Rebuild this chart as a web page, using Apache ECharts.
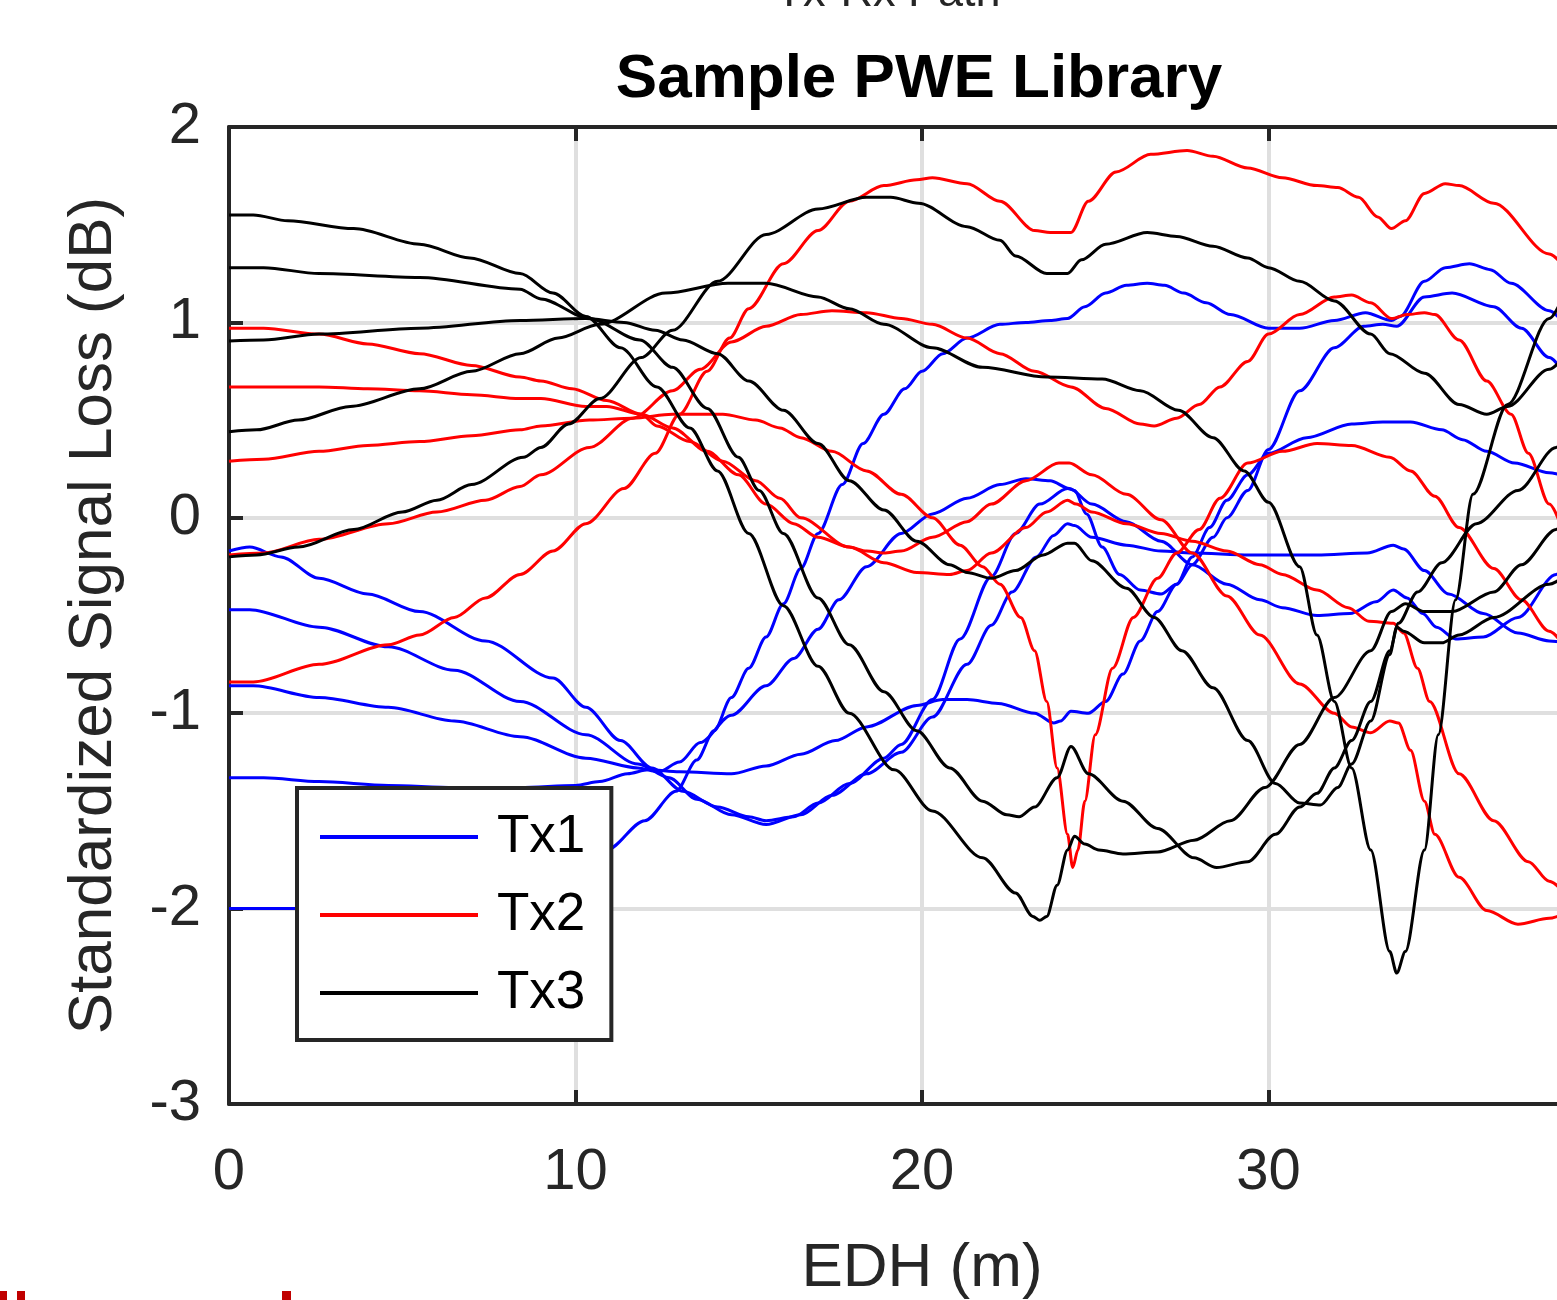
<!DOCTYPE html>
<html><head><meta charset="utf-8">
<script src="https://cdn.jsdelivr.net/npm/echarts@6/dist/echarts.min.js"></script>
<style>html,body{margin:0;padding:0;overflow:hidden;background:#fff}#c{width:1700px;height:1300px}</style>
</head><body><div id="c"></div>
<script>
// ---- axis ticks ----
const xTicks = [0, 10, 20, 30, 40];
const yTicks = [-3, -2, -1, 0, 1, 2];
const seriesNames = ['Tx1', 'Tx2', 'Tx3'];
const seriesColors = ['#0000ff', '#ff0000', '#000000'];

// ---- Tx1 (blue) ----
const tx1Line1 = [[0,-0.17],[0.6,-0.15],[1.5,-0.2],[2.6,-0.31],[4,-0.39],[5.5,-0.48],[7.4,-0.63],[9.35,-0.82],[10.3,-0.97],[11.3,-1.14],[12.2,-1.28],[13.1,-1.40],[14.1,-1.48],[15.0,-1.53],[15.5,-1.55],[16.3,-1.53],[17.0,-1.46],[17.9,-1.36],[18.9,-1.23],[19.4,-1.16],[20.3,-0.93],[21.1,-0.62],[22.0,-0.3],[22.7,-0.08],[23.4,0.07],[24.2,0.15],[24.4,0.14],[24.75,0.02],[25.2,-0.15],[25.7,-0.29],[26.3,-0.37],[26.9,-0.39],[27.35,-0.34],[27.8,-0.24],[28.4,-0.1],[28.8,0.0],[29.4,0.14],[30.0,0.35],[30.9,0.65],[31.9,0.87],[32.75,0.98],[33.3,0.99],[33.7,0.98],[34.5,1.13],[35.3,1.15],[36.5,1.08],[37.3,0.97],[38.1,0.82],[38.6,0.72]];
const tx1Line2 = [[0,-0.47],[0.6,-0.47],[2.6,-0.56],[4.6,-0.66],[6.5,-0.78],[8.4,-0.94],[10.3,-1.11],[11.8,-1.26],[12.7,-1.33],[13.5,-1.44],[14.5,-1.52],[15.5,-1.57],[16.5,-1.52],[17.4,-1.42],[18.4,-1.31],[19.4,-1.20],[20.3,-1.02],[21.3,-0.75],[22.0,-0.55],[22.6,-0.38],[23.3,-0.2],[23.8,-0.09],[24.2,-0.03],[24.4,-0.04],[24.9,-0.10],[25.9,-0.14],[26.9,-0.17],[27.8,-0.18],[29.45,-0.19],[31.4,-0.19],[32.85,-0.18],[33.6,-0.14],[33.9,-0.16],[34.5,-0.27],[35.2,-0.39],[36.2,-0.49],[37.2,-0.59],[38.1,-0.63],[38.6,-0.64]];
const tx1Line3 = [[0,-0.86],[0.7,-0.86],[2.6,-0.92],[4.6,-0.97],[6.5,-1.04],[8.4,-1.12],[10.3,-1.23],[11.8,-1.28],[12.4,-1.30],[13.0,-1.25],[13.6,-1.15],[14.5,-1.01],[15.5,-0.86],[16.3,-0.72],[17.0,-0.57],[17.6,-0.42],[18.4,-0.25],[19.4,-0.08],[20.3,0.02],[21.3,0.10],[22.25,0.17],[23.0,0.20],[23.7,0.19],[24.25,0.15],[24.9,0.07],[25.9,-0.02],[26.9,-0.12],[27.8,-0.24],[28.8,-0.34],[29.75,-0.42],[30.4,-0.46],[31.4,-0.50],[32.35,-0.49],[33.1,-0.43],[33.6,-0.37],[34.0,-0.41],[34.45,-0.49],[34.85,-0.56],[35.4,-0.62],[36.2,-0.61],[37.2,-0.51],[38.3,-0.29],[38.6,-0.24]];
const tx1Line4 = [[0,-1.33],[1,-1.33],[2.6,-1.35],[4.6,-1.37],[6.5,-1.38],[8.4,-1.38],[10.0,-1.37],[10.7,-1.35],[11.5,-1.31],[12.1,-1.29],[13.0,-1.30],[14.5,-1.31],[15.5,-1.27],[16.5,-1.21],[17.5,-1.14],[18.4,-1.07],[19.85,-0.96],[20.6,-0.93],[21.3,-0.93],[22.2,-0.95],[23.25,-1.0],[23.8,-1.05],[24.0,-1.04],[24.3,-0.99],[24.8,-1.0],[25.3,-0.94],[25.8,-0.8],[26.3,-0.63],[26.8,-0.48],[27.35,-0.34],[27.8,-0.2],[28.3,-0.05],[28.8,0.09],[29.4,0.22],[30.0,0.33],[31.1,0.41],[32.4,0.48],[33.3,0.49],[34.1,0.49],[35.0,0.45],[35.6,0.40],[36.3,0.34],[37.1,0.28],[38.1,0.23],[38.6,0.21]];
const tx1Line5 = [[0,-2.0],[1,-2.0],[2,-2.0],[4,-1.98],[6,-1.94],[8,-1.87],[9.5,-1.80],[10.9,-1.70],[12.0,-1.55],[12.9,-1.40],[13.5,-1.24],[14.0,-1.09],[14.5,-0.92],[15.0,-0.77],[15.5,-0.61],[16.0,-0.44],[16.5,-0.26],[17.0,-0.08],[17.7,0.17],[18.3,0.38],[18.9,0.53],[19.5,0.66],[20.0,0.75],[20.6,0.84],[21.3,0.92],[22.25,0.99],[23.0,1.0],[23.7,1.01],[24.2,1.02],[24.7,1.08],[25.3,1.15],[25.9,1.19],[26.5,1.20],[27.0,1.19],[27.55,1.15],[28.2,1.10],[28.9,1.04],[30.0,0.97],[30.9,0.97],[31.9,1.01],[32.8,1.05],[33.55,1.01],[33.8,1.03],[34.5,1.21],[35.1,1.28],[35.8,1.30],[36.4,1.27],[37.0,1.20],[38.1,1.06],[38.6,0.98]];

// ---- Tx2 (red) ----
const tx2Line1 = [[0,0.97],[1,0.97],[2.6,0.94],[4,0.89],[5.5,0.84],[7,0.78],[8.4,0.72],[9.0,0.70],[9.9,0.66],[10.9,0.60],[11.9,0.53],[12.35,0.47],[13.3,0.39],[14.25,0.29],[15.2,0.19],[15.9,0.10],[16.5,0.0],[17.9,-0.15],[18.9,-0.23],[19.85,-0.28],[20.8,-0.29],[21.3,-0.27],[22.0,-0.18],[23.0,-0.05],[23.6,0.03],[24.2,0.09],[24.45,0.07],[24.9,0.03],[25.9,-0.03],[26.9,-0.08],[27.8,-0.12],[28.8,-0.17],[29.75,-0.24],[30.4,-0.29],[31.4,-0.37],[32.3,-0.46],[32.9,-0.53],[33.6,-0.54],[33.9,-0.59],[34.3,-0.77],[34.65,-0.94],[35.5,-1.31],[36.5,-1.55],[37.5,-1.76],[38.1,-1.86],[38.6,-1.93]];
const tx2Line2 = [[0,0.67],[1,0.67],[2.6,0.67],[4,0.66],[5.5,0.65],[7,0.63],[8.4,0.61],[9.0,0.61],[10.3,0.57],[10.9,0.57],[11.9,0.53],[12.8,0.46],[13.8,0.34],[14.7,0.22],[15.5,0.07],[16.3,-0.03],[17.0,-0.1],[17.9,-0.15],[18.4,-0.17],[18.9,-0.18],[19.4,-0.17],[20.3,-0.10],[21.3,-0.02],[22.0,0.07],[23.0,0.19],[23.95,0.28],[24.25,0.28],[24.9,0.22],[25.9,0.12],[26.9,-0.01],[27.8,-0.18],[28.8,-0.40],[29.75,-0.60],[30.9,-0.85],[31.9,-1.0],[32.4,-1.07],[32.95,-1.10],[33.5,-1.04],[33.75,-1.05],[34.1,-1.19],[34.5,-1.45],[34.8,-1.62],[35.5,-1.84],[36.3,-2.01],[37.2,-2.08],[38.1,-2.05],[38.6,-2.02]];
const tx2Line3 = [[0,0.29],[1,0.30],[2.6,0.34],[4,0.37],[5.5,0.39],[7,0.42],[8.4,0.45],[9.0,0.47],[10.4,0.50],[11.65,0.51],[12.8,0.53],[14.25,0.53],[15.2,0.50],[15.9,0.46],[16.5,0.41],[17.4,0.34],[18.4,0.24],[19.4,0.12],[20.3,0.0],[21.1,-0.14],[21.75,-0.25],[22.25,-0.34],[22.85,-0.51],[23.25,-0.68],[23.6,-0.94],[23.9,-1.28],[24.2,-1.62],[24.35,-1.79],[24.5,-1.70],[24.7,-1.45],[25.0,-1.11],[25.5,-0.77],[26.1,-0.51],[26.8,-0.31],[27.35,-0.18],[28.0,-0.06],[28.6,0.10],[29.4,0.28],[30.4,0.34],[31.4,0.38],[32.4,0.37],[33.5,0.31],[34.1,0.24],[34.8,0.11],[35.5,-0.05],[36.5,-0.26],[37.3,-0.42],[38.1,-0.58],[38.6,-0.67]];
const tx2Line4 = [[0,-0.19],[1,-0.18],[2.6,-0.11],[4.6,-0.03],[6,0.03],[7.4,0.09],[8.4,0.16],[9.0,0.22],[10.4,0.36],[11.65,0.51],[12.8,0.65],[13.6,0.76],[14.5,0.90],[15.5,0.98],[16.5,1.04],[17.4,1.06],[18.4,1.05],[19.4,1.02],[20.3,0.99],[21.3,0.92],[22.25,0.84],[23.25,0.75],[24.3,0.67],[25.3,0.56],[26.3,0.48],[26.7,0.47],[27.35,0.51],[28.0,0.58],[28.6,0.67],[29.4,0.80],[30.0,0.94],[30.9,1.04],[31.9,1.13],[32.4,1.14],[32.95,1.10],[33.55,1.02],[34.0,1.04],[34.5,1.05],[34.8,1.04],[35.5,0.91],[36.3,0.70],[37.0,0.53],[37.5,0.33],[38.1,0.07],[38.6,-0.12]];
const tx2Line5 = [[0,-0.84],[0.7,-0.84],[2.6,-0.75],[4.6,-0.65],[5.5,-0.60],[6.5,-0.51],[7.4,-0.41],[8.4,-0.29],[9.35,-0.17],[10.3,-0.03],[11.4,0.15],[12.3,0.33],[13.0,0.53],[13.8,0.75],[14.45,0.92],[15.0,1.07],[16.0,1.30],[17.0,1.47],[17.9,1.62],[18.9,1.70],[19.85,1.73],[20.3,1.74],[21.3,1.71],[22.25,1.62],[23.25,1.47],[23.7,1.46],[24.3,1.46],[24.8,1.62],[25.6,1.77],[26.6,1.86],[27.65,1.88],[28.4,1.85],[29.4,1.79],[30.4,1.74],[31.4,1.70],[32.0,1.69],[32.6,1.64],[33.15,1.54],[33.55,1.48],[33.95,1.52],[34.5,1.66],[35.1,1.71],[35.5,1.70],[36.5,1.61],[38.1,1.35],[38.6,1.27]];

// ---- Tx3 (black) ----
const tx3Line1 = [[0,1.55],[0.7,1.55],[1.7,1.52],[3.6,1.48],[5.5,1.40],[6.95,1.33],[8.4,1.25],[9.35,1.15],[10.3,1.03],[11.3,0.87],[12.35,0.67],[13.3,0.46],[14.1,0.24],[15.0,-0.08],[16.0,-0.45],[17.0,-0.76],[17.9,-1.0],[19.2,-1.29],[20.3,-1.5],[21.75,-1.74],[22.7,-1.92],[23.2,-2.04],[23.4,-2.06],[23.6,-2.04],[23.9,-1.88],[24.2,-1.7],[24.4,-1.63],[24.7,-1.67],[25.1,-1.70],[25.8,-1.72],[26.8,-1.71],[27.85,-1.65],[28.9,-1.55],[29.9,-1.38],[30.9,-1.16],[31.9,-0.92],[32.95,-0.68],[33.55,-0.48],[33.95,-0.44],[34.5,-0.48],[35.3,-0.48],[36.5,-0.38],[37.3,-0.24],[38.3,-0.06],[38.6,0.0]];
const tx3Line2 = [[0,1.28],[1,1.28],[2.6,1.25],[5.5,1.23],[8.4,1.17],[9.0,1.12],[10.4,1.02],[11.86,0.91],[12.8,0.77],[13.8,0.56],[14.7,0.31],[15.3,0.14],[16.0,-0.08],[17.0,-0.41],[17.9,-0.65],[18.9,-0.89],[19.85,-1.09],[20.8,-1.28],[21.75,-1.45],[22.45,-1.52],[22.8,-1.53],[23.25,-1.48],[23.9,-1.33],[24.3,-1.17],[24.8,-1.31],[25.8,-1.45],[26.8,-1.59],[27.85,-1.74],[28.5,-1.79],[29.4,-1.76],[30.2,-1.62],[30.9,-1.48],[31.4,-1.41],[31.9,-1.28],[32.4,-1.14],[32.95,-0.94],[33.5,-0.68],[33.75,-0.54],[34.3,-0.38],[35.0,-0.23],[36.0,-0.03],[37.2,0.14],[38.3,0.36],[38.6,0.42]];
const tx3Line3 = [[0,0.905],[1,0.91],[2.6,0.94],[5.5,0.97],[8.4,1.01],[10.3,1.02],[11.4,1.0],[12.3,0.96],[13.1,0.91],[14.1,0.84],[15.0,0.70],[16.0,0.55],[17.0,0.38],[17.9,0.19],[18.9,0.04],[19.85,-0.12],[20.8,-0.24],[21.3,-0.28],[22.0,-0.31],[22.7,-0.27],[23.5,-0.19],[24.2,-0.13],[24.4,-0.13],[24.9,-0.22],[25.9,-0.36],[26.7,-0.51],[27.5,-0.68],[28.4,-0.87],[29.4,-1.14],[30.2,-1.36],[30.9,-1.46],[31.5,-1.47],[32.0,-1.38],[32.4,-1.26],[32.95,-1.04],[33.5,-0.70],[33.7,-0.56],[33.9,-0.58],[34.5,-0.64],[35.0,-0.64],[35.5,-0.60],[36.5,-0.51],[38.1,-0.34],[38.6,-0.29]];
const tx3Line4 = [[0,0.44],[0.8,0.45],[2,0.5],[3.5,0.57],[5.5,0.66],[7,0.75],[8.4,0.84],[9.5,0.92],[10.7,0.99],[12.6,1.15],[14.4,1.20],[15.5,1.20],[17,1.13],[17.9,1.07],[18.9,0.99],[20.3,0.87],[21.75,0.77],[23.6,0.72],[25.2,0.71],[26.3,0.65],[27.4,0.55],[28.4,0.41],[29.3,0.24],[30,0.08],[30.9,-0.25],[31.4,-0.6],[31.9,-0.94],[32.4,-1.28],[32.95,-1.70],[33.5,-2.22],[33.7,-2.33],[33.95,-2.22],[34.5,-1.70],[34.9,-1.11],[35.4,-0.42],[35.9,0.12],[36.9,0.58],[38.1,1.02],[38.6,1.17]];
const tx3Line5 = [[0,-0.2],[0.8,-0.19],[2,-0.15],[3.6,-0.06],[5.0,0.03],[6.0,0.09],[7,0.17],[8.5,0.31],[9.0,0.36],[9.8,0.48],[10.7,0.61],[11.9,0.82],[12.8,0.96],[14.1,1.21],[15.5,1.45],[17,1.58],[18.4,1.64],[19.1,1.64],[19.9,1.61],[21.3,1.49],[22.25,1.42],[22.7,1.34],[23.6,1.25],[24.2,1.25],[24.6,1.32],[25.3,1.40],[26.5,1.46],[27.35,1.44],[28.4,1.39],[29.4,1.33],[30,1.28],[30.9,1.21],[31.9,1.11],[32.95,0.94],[33.5,0.84],[34.5,0.74],[35.5,0.58],[36.3,0.53],[36.9,0.57],[38.1,0.76],[38.6,0.84]];

const groups = [
  [tx1Line1, tx1Line2, tx1Line3, tx1Line4, tx1Line5],
  [tx2Line1, tx2Line2, tx2Line3, tx2Line4, tx2Line5],
  [tx3Line1, tx3Line2, tx3Line3, tx3Line4, tx3Line5]
];

const FONT = '"Liberation Sans", Arial, Helvetica, sans-serif';
const AX = '#262626';

const series = [];
groups.forEach((lines, gi) => {
  lines.forEach(d => {
    series.push({
      type: 'line', name: seriesNames[gi], data: d,
      xAxisIndex: 0, yAxisIndex: 0,
      showSymbol: false, symbol: 'none',
      smooth: 0.3, smoothMonotone: 'x',
      lineStyle: { color: seriesColors[gi], width: 3 },
      itemStyle: { color: seriesColors[gi] },
      emphasis: { disabled: true },
      animation: false, z: 2
    });
  });
});

const chart = echarts.init(document.getElementById('c'), null, { renderer: 'canvas' });
chart.setOption({
  animation: false,
  backgroundColor: '#ffffff',
  textStyle: { fontFamily: FONT },
  title: {
    text: 'Sample PWE Library', left: 914, top: 44, textAlign: 'center',
    textStyle: { fontSize: 62, fontWeight: 'bold', color: '#000', fontFamily: FONT }
  },
  grid: { left: 229, top: 127, width: 1386, height: 977, containLabel: false, outerBoundsMode: 'none' },
  legend: {
    data: seriesNames, orient: 'vertical', left: 297, top: 788,
    padding: [19, 26, 17, 23], itemGap: 18,
    icon: 'rect', itemWidth: 158, itemHeight: 4,
    backgroundColor: '#ffffff', borderColor: AX, borderWidth: 4, borderRadius: 0,
    selectedMode: false,
    textStyle: { fontSize: 53, color: '#000', fontFamily: FONT, lineHeight: 60, padding: [0, 0, 0, 14] },
    z: 10
  },
  xAxis: [{
    type: 'value', position: 'bottom', min: xTicks[0], max: xTicks[xTicks.length - 1], interval: 10,
    axisLine: { show: true, onZero: false, lineStyle: { color: AX, width: 4 } },
    axisTick: { show: true, inside: true, length: 14, lineStyle: { color: AX, width: 4 } },
    axisLabel: { fontSize: 58, color: AX, margin: 40, fontFamily: FONT },
    splitLine: { show: true, lineStyle: { color: '#dfdfdf', width: 4 } },
    name: 'EDH (m)', nameLocation: 'middle', nameGap: 134,
    nameTextStyle: { fontSize: 62, color: AX, fontFamily: FONT }
  }, {
    type: 'value', position: 'top', min: xTicks[0], max: xTicks[xTicks.length - 1], interval: 10,
    axisLine: { show: true, onZero: false, lineStyle: { color: AX, width: 4 } },
    axisTick: { show: true, inside: true, length: 14, lineStyle: { color: AX, width: 4 } },
    axisLabel: { show: false }, splitLine: { show: false }
  }],
  yAxis: [{
    type: 'value', position: 'left', min: yTicks[0], max: yTicks[yTicks.length - 1], interval: 1,
    axisLine: { show: true, onZero: false, lineStyle: { color: AX, width: 4 } },
    axisTick: { show: true, inside: true, length: 14, lineStyle: { color: AX, width: 4 } },
    axisLabel: { fontSize: 58, color: AX, margin: 28, fontFamily: FONT },
    splitLine: { show: true, lineStyle: { color: '#dfdfdf', width: 4 } },
    name: 'Standardized Signal Loss (dB)', nameLocation: 'middle', nameGap: 104, nameRotate: 90,
    nameTextStyle: { fontSize: 62, color: AX, fontFamily: FONT }
  }],
  graphic: [
    { type: 'text', z: 100, style: { text: 'Tx-Rx Path', x: 888, y: 16, font: '45px ' + FONT, fill: '#262626', align: 'center', verticalAlign: 'bottom', textAlign: 'center', textVerticalAlign: 'bottom' } },
    { type: 'rect', z: 100, shape: { x: 0, y: 1291, width: 7, height: 9 }, style: { fill: '#c00000' } },
    { type: 'rect', z: 100, shape: { x: 17, y: 1291, width: 8, height: 9 }, style: { fill: '#c00000' } },
    { type: 'rect', z: 100, shape: { x: 282, y: 1291, width: 9, height: 9 }, style: { fill: '#c00000' } }
  ],
  series: series
});
</script>
</body></html>
